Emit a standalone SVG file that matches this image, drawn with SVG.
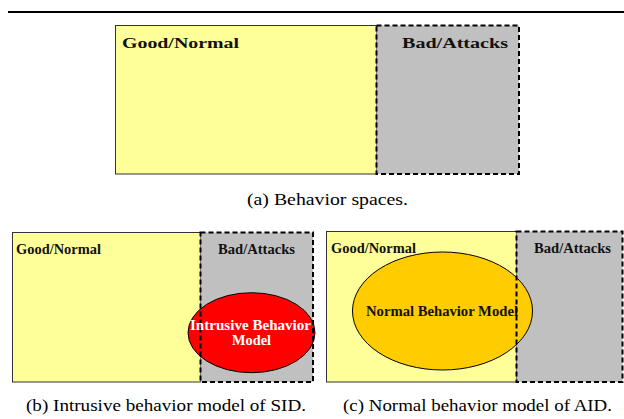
<svg xmlns="http://www.w3.org/2000/svg" width="624" height="419" viewBox="0 0 624 419">
<style>
.good{fill:#FFFF99;stroke:#333;stroke-width:1}
.bad{fill:#C0C0C0;stroke:none}
.dash{fill:none;stroke:#000;stroke-width:2;stroke-dasharray:5,3}
.lbl{font-family:'Liberation Serif',Tinos,'Times New Roman',Times,serif;font-weight:bold;fill:#111}
.cap{font-family:'Liberation Serif',Tinos,'Times New Roman',Times,serif;font-size:17px;fill:#000}
</style>
<rect width="624" height="419" fill="#fff"/>
<line x1="8" y1="12" x2="624" y2="12" stroke="#000" stroke-width="2"/>

<g id="panel-a">
<rect class="good" x="115.5" y="25.5" width="261" height="148.5"/>
<rect class="bad" x="376.5" y="25.5" width="142.5" height="148.5"/>
<rect class="dash" x="376.5" y="25.5" width="142.5" height="148.5"/>
<text class="lbl" x="122" y="48" font-size="15" textLength="117" lengthAdjust="spacingAndGlyphs">Good/Normal</text>
<text class="lbl" x="402" y="48" font-size="15" textLength="106" lengthAdjust="spacingAndGlyphs">Bad/Attacks</text>
<text class="cap" x="247" y="205" textLength="161" lengthAdjust="spacingAndGlyphs">(a)  Behavior spaces.</text>
</g>

<g id="panel-b">
<rect class="good" x="12.5" y="232.5" width="188" height="149.5"/>
<rect class="bad" x="200.5" y="232.5" width="112.5" height="149.5"/>
<ellipse cx="251.5" cy="332.7" rx="63.5" ry="40" fill="#FF0000" stroke="#000" stroke-width="1"/>
<rect class="dash" x="200.5" y="232.5" width="112.5" height="149.5"/>
<text class="lbl" x="16" y="254" font-size="14.5" textLength="85" lengthAdjust="spacingAndGlyphs">Good/Normal</text>
<text class="lbl" x="218" y="254" font-size="14.5" textLength="77" lengthAdjust="spacingAndGlyphs">Bad/Attacks</text>
<text class="lbl" x="190" y="330" font-size="14.5" style="fill:#fff" textLength="121" lengthAdjust="spacingAndGlyphs">Intrusive Behavior</text>
<text class="lbl" x="232" y="345" font-size="14.5" style="fill:#fff" textLength="39" lengthAdjust="spacingAndGlyphs">Model</text>
<text class="cap" x="26" y="411" textLength="280" lengthAdjust="spacingAndGlyphs">(b)  Intrusive behavior model of SID.</text>
</g>

<g id="panel-c">
<rect class="good" x="326.5" y="231.5" width="190" height="150.5"/>
<rect class="bad" x="516.5" y="231.5" width="106" height="150.5"/>
<text class="lbl" x="331" y="253" font-size="14.5" textLength="85" lengthAdjust="spacingAndGlyphs">Good/Normal</text>
<ellipse cx="442.5" cy="311" rx="90" ry="59" fill="#FFCC00" stroke="#000" stroke-width="1"/>
<text class="lbl" x="366" y="316" font-size="14.5" textLength="152" lengthAdjust="spacingAndGlyphs">Normal Behavior Model</text>
<rect class="dash" x="516.5" y="231.5" width="106" height="150.5"/>
<text class="lbl" x="534" y="253" font-size="14.5" textLength="77" lengthAdjust="spacingAndGlyphs">Bad/Attacks</text>
<text class="cap" x="343" y="411" textLength="269" lengthAdjust="spacingAndGlyphs">(c)  Normal behavior model of AID.</text>
</g>
</svg>
